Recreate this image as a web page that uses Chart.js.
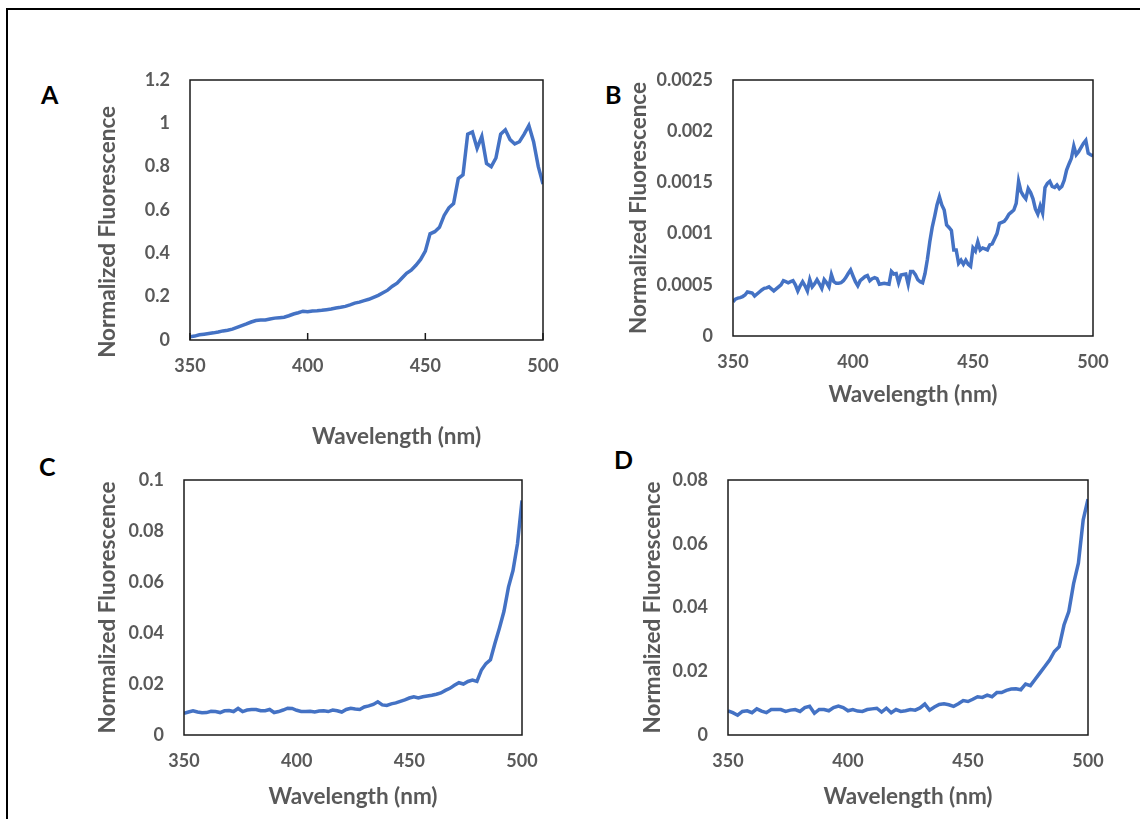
<!DOCTYPE html>
<html>
<head>
<meta charset="utf-8">
<script src="https://cdn.jsdelivr.net/npm/chart.js@4.4.1/dist/chart.umd.min.js"></script>
<style>
  body { margin: 0; background: #fff; width: 1140px; height: 819px; position: relative; overflow: hidden; }
  #frame { position: absolute; left: 6px; top: 8px; width: 1200px; height: 900px; border-left: 2px solid #000; border-top: 2px solid #000; }
  .tag { position: absolute; font: bold 25px Lato, sans-serif; line-height: 1; color: #000; }
  canvas { position: absolute; }
</style>
</head>
<body>
<div id="frame"></div>
<div class="tag" style="left:41px;top:82px">A</div>
<div class="tag" style="left:605px;top:82px">B</div>
<div class="tag" style="left:39px;top:454px">C</div>
<div class="tag" style="left:614px;top:447px">D</div>
<canvas id="chartA"></canvas>
<canvas id="chartB"></canvas>
<canvas id="chartC"></canvas>
<canvas id="chartD"></canvas>
<script>
// wavelength (nm), 2 nm steps (panels A, C, D)
var wavelengths = [350,352,354,356,358,360,362,364,366,368,
  370,372,374,376,378,380,382,384,386,388,
  390,392,394,396,398,400,402,404,406,408,
  410,412,414,416,418,420,422,424,426,428,
  430,432,434,436,438,440,442,444,446,448,
  450,452,454,456,458,460,462,464,466,468,
  470,472,474,476,478,480,482,484,486,488,
  490,492,494,496,498,500];

// wavelength (nm), 1 nm steps (panel B, noisier)
var wavelengthsB = [350,351,352,353,354,355,356,357,358,359,
  360,361,362,363,364,365,366,367,368,369,
  370,371,372,373,374,375,376,377,378,379,
  380,381,382,383,384,385,386,387,388,389,
  390,391,392,393,394,395,396,397,398,399,
  400,401,402,403,404,405,406,407,408,409,
  410,411,412,413,414,415,416,417,418,419,
  420,421,422,423,424,425,426,427,428,429,
  430,431,432,433,434,435,436,437,438,439,
  440,441,442,443,444,445,446,447,448,449,
  450,451,452,453,454,455,456,457,458,459,
  460,461,462,463,464,465,466,467,468,469,
  470,471,472,473,474,475,476,477,478,479,
  480,481,482,483,484,485,486,487,488,489,
  490,491,492,493,494,495,496,497,498,499,
  500];

// normalized fluorescence, one array per panel
var fluorA = [0.015,0.018,0.024,0.027,0.03,0.033,0.037,0.042,0.045,0.05,
  0.058,0.066,0.074,0.083,0.09,0.092,0.092,0.097,0.101,0.103,
  0.105,0.112,0.12,0.126,0.133,0.13,0.134,0.135,0.137,0.14,
  0.143,0.148,0.151,0.155,0.162,0.17,0.175,0.182,0.188,0.197,
  0.206,0.218,0.23,0.248,0.262,0.285,0.308,0.322,0.345,0.372,
  0.41,0.49,0.5,0.52,0.575,0.61,0.63,0.745,0.762,0.95,
  0.96,0.885,0.94,0.815,0.8,0.84,0.95,0.97,0.925,0.905,
  0.915,0.95,0.99,0.915,0.8,0.72];

var fluorB = [3.35e-4,3.6e-4,3.7e-4,3.75e-4,3.85e-4,4.0e-4,4.3e-4,4.25e-4,4.2e-4,3.9e-4,
  4.1e-4,4.3e-4,4.5e-4,4.65e-4,4.7e-4,4.8e-4,4.6e-4,4.4e-4,4.6e-4,4.8e-4,
  5.0e-4,5.4e-4,5.3e-4,5.2e-4,5.3e-4,5.4e-4,5.0e-4,4.4e-4,4.9e-4,5.3e-4,
  4.9e-4,4.4e-4,5.5e-4,4.8e-4,5.1e-4,5.5e-4,5.1e-4,4.65e-4,5.5e-4,5.2e-4,
  4.8e-4,6.0e-4,5.3e-4,5.15e-4,5.15e-4,5.2e-4,5.4e-4,5.7e-4,6.1e-4,6.45e-4,
  5.86e-4,5.3e-4,4.9e-4,5.4e-4,5.6e-4,5.8e-4,5.9e-4,5.4e-4,5.6e-4,5.7e-4,
  5.6e-4,5.05e-4,5.1e-4,5.15e-4,5.1e-4,5.05e-4,6.3e-4,6.05e-4,6.1e-4,5.2e-4,
  5.95e-4,6.0e-4,6.05e-4,5.05e-4,6.3e-4,6.3e-4,6.0e-4,5.5e-4,5.3e-4,5.2e-4,
  6.1e-4,7.5e-4,9.2e-4,10.6e-4,11.65e-4,12.8e-4,13.6e-4,12.8e-4,12.3e-4,10.85e-4,
  10.6e-4,10.3e-4,8.4e-4,8.4e-4,7.1e-4,7.4e-4,7.0e-4,7.4e-4,7.0e-4,6.8e-4,
  8.6e-4,8.3e-4,9.2e-4,8.4e-4,8.6e-4,8.5e-4,8.4e-4,8.9e-4,9.0e-4,9.5e-4,
  10.0e-4,11.0e-4,11.1e-4,11.2e-4,11.5e-4,11.9e-4,12.1e-4,12.3e-4,12.95e-4,15.1e-4,
  14.1e-4,13.7e-4,13.4e-4,14.4e-4,14.0e-4,13.4e-4,12.4e-4,11.9e-4,12.7e-4,12.0e-4,
  14.5e-4,14.9e-4,15.1e-4,14.6e-4,14.5e-4,14.75e-4,14.4e-4,14.6e-4,15.2e-4,16.2e-4,
  16.8e-4,17.35e-4,18.55e-4,17.7e-4,18.0e-4,18.4e-4,18.8e-4,19.1e-4,17.85e-4,17.7e-4,
  17.6e-4];

var fluorC = [0.0085,0.009,0.0095,0.009,0.0087,0.0088,0.0093,0.0092,0.0088,0.0095,
  0.0096,0.0092,0.0104,0.0092,0.0098,0.01,0.01,0.0095,0.0095,0.01,
  0.0088,0.0092,0.0098,0.0105,0.0104,0.0097,0.0092,0.0092,0.0093,0.009,
  0.0094,0.0095,0.0092,0.0098,0.0095,0.009,0.01,0.0105,0.0102,0.01,
  0.011,0.0114,0.012,0.013,0.0118,0.0116,0.0122,0.0126,0.0132,0.0138,
  0.0145,0.015,0.0145,0.015,0.0153,0.0156,0.016,0.0165,0.0175,0.0183,
  0.0195,0.0205,0.02,0.021,0.0215,0.021,0.0255,0.028,0.0295,0.036,
  0.042,0.0485,0.058,0.0645,0.075,0.092];

var fluorD = [0.0076,0.007,0.0062,0.0074,0.0076,0.007,0.0082,0.0075,0.007,0.008,
  0.008,0.008,0.0074,0.0078,0.008,0.0074,0.0086,0.009,0.0068,0.008,
  0.008,0.0076,0.0086,0.0091,0.0086,0.0076,0.008,0.0075,0.0074,0.008,
  0.0082,0.0084,0.0072,0.0084,0.007,0.008,0.0074,0.0076,0.008,0.0078,
  0.0085,0.0097,0.0078,0.0088,0.0096,0.0098,0.0095,0.009,0.0098,0.0108,
  0.0105,0.0112,0.012,0.0118,0.0125,0.012,0.0133,0.0133,0.014,0.0144,
  0.0145,0.0142,0.016,0.0155,0.0175,0.0195,0.0215,0.0235,0.0262,0.0277,
  0.0345,0.0387,0.0475,0.0539,0.0675,0.074];

var xTicks = { min: 350, max: 500, step: 50 };

var GRAY = '#595959';
var LINE = '#4472C4';
var FONT = 'Lato';
var TITLE_SIZE = 22.5;

// plot frame, plus inward tick marks on x when asked
function plotBox(innerTicks) {
  return {
    id: 'plotBox',
    afterDraw: function (chart) {
      var ctx = chart.ctx, a = chart.chartArea, xs = chart.scales.x;
      ctx.save();
      ctx.strokeStyle = '#1a1a1a';
      ctx.lineWidth = 1.5;
      ctx.strokeRect(a.left, a.top, a.right - a.left, a.bottom - a.top);
      if (innerTicks) {
        xs.ticks.forEach(function (t) {
          var px = xs.getPixelForValue(t.value);
          ctx.beginPath();
          ctx.moveTo(px, a.bottom);
          ctx.lineTo(px, a.bottom - 7);
          ctx.stroke();
        });
      }
      ctx.restore();
    }
  };
}

function panel(id, xs, values, p) {
  var cv = document.getElementById(id);
  var left = p.yTitleX - 20, top = p.box.t - 20;
  var w = p.box.r + 20 - left, h = p.xTitleY + 20 - top;
  cv.width = w; cv.height = h;
  cv.style.left = left + 'px'; cv.style.top = top + 'px';
  var yW = p.box.l - left, xH = p.xTitleY + 20 - p.box.b;
  var half = TITLE_SIZE * 1.2 / 2;

  // label gaps come from (hidden) tick lengths, so they don't inflate the layout padding
  new Chart(cv, {
    type: 'line',
    data: {
      datasets: [{
        data: xs.map(function (x, i) { return { x: x, y: values[i] }; }),
        borderColor: LINE,
        borderWidth: 3.5,
        pointRadius: 0,
        tension: 0,
        fill: false
      }]
    },
    options: {
      responsive: false,
      animation: false,
      layout: { padding: { top: 20, right: 20, left: 0, bottom: 0 } },
      plugins: {
        legend: { display: false },
        tooltip: { enabled: false }
      },
      scales: {
        x: {
          type: 'linear',
          min: xTicks.min, max: xTicks.max,
          grid: { display: false, drawTicks: true, tickLength: 15 },
          border: { display: false },
          ticks: { stepSize: xTicks.step, padding: 0, color: GRAY, font: { family: FONT, size: 18, weight: 'bold' } },
          title: { display: true, text: p.xTitle, color: GRAY, padding: { top: 0, bottom: 20 - half }, font: { family: FONT, size: TITLE_SIZE, weight: 'bold' } },
          afterFit: function (s) { s.height = xH; }
        },
        y: {
          min: 0, max: p.yMax,
          grid: { display: false, drawTicks: true, tickLength: 20 },
          border: { display: false },
          ticks: {
            stepSize: p.yStep, padding: 0, color: GRAY,
            font: { family: FONT, size: 18, weight: 'bold' },
            callback: function (v) { return String(parseFloat(v.toFixed(6))); }
          },
          title: { display: true, text: p.yTitle, color: GRAY, padding: { top: 20 - half, bottom: 0 }, font: { family: FONT, size: TITLE_SIZE, weight: 'bold' } },
          afterFit: function (s) { s.width = yW; }
        }
      }
    },
    plugins: [plotBox(!!p.innerTicks)]
  });
}

var yLabel = 'Normalized Fluorescence';
var xLabel = 'Wavelength (nm)';

panel('chartA', wavelengths, fluorA, { box: { l: 190, t: 80, r: 543, b: 340 }, yTitleX: 108, xTitleY: 437, yMax: 1.2, yStep: 0.2,
  yTitle: yLabel + ' '.repeat(8), xTitle: ' '.repeat(11) + xLabel, innerTicks: true });
panel('chartB', wavelengthsB, fluorB, { box: { l: 733, t: 80, r: 1093, b: 336 }, yTitleX: 639, xTitleY: 395, yMax: 0.0025, yStep: 0.0005,
  yTitle: yLabel, xTitle: xLabel });
panel('chartC', wavelengths, fluorC, { box: { l: 184, t: 480, r: 522, b: 735 }, yTitleX: 108, xTitleY: 797, yMax: 0.1, yStep: 0.02,
  yTitle: yLabel, xTitle: xLabel });
panel('chartD', wavelengths, fluorD, { box: { l: 728, t: 480, r: 1088, b: 735 }, yTitleX: 653, xTitleY: 797, yMax: 0.08, yStep: 0.02,
  yTitle: yLabel, xTitle: xLabel });
</script>
</body>
</html>
